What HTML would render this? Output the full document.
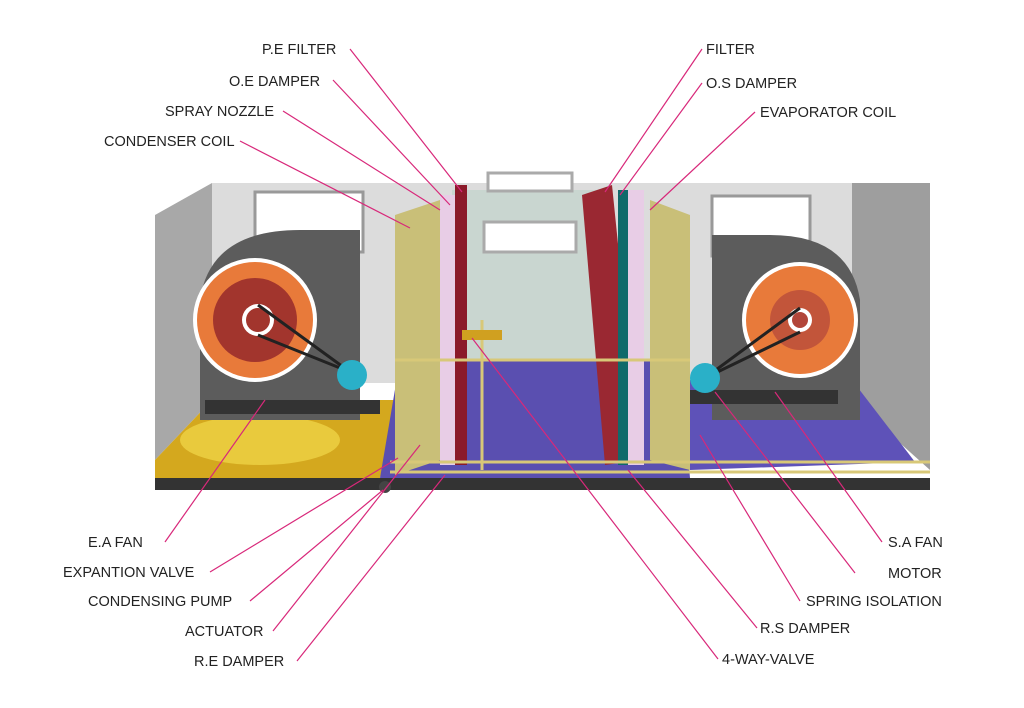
<!DOCTYPE html>
<html><head><meta charset="utf-8"><style>
body{margin:0;background:#fff}
svg text{font-family:"Liberation Sans",sans-serif;font-size:14.5px;fill:#222}
</style></head><body>
<svg width="1024" height="703" viewBox="0 0 1024 703" xmlns="http://www.w3.org/2000/svg">
<!-- back wall -->
<rect x="212" y="183" width="640" height="200" fill="#dcdcdc"/>
<polygon points="452,190 600,190 600,390 452,390" fill="#c9d6d0"/>
<!-- left wall -->
<polygon points="155,215 212,183 212,400 155,460" fill="#a8a8a8"/>
<!-- right wall -->
<polygon points="852,183 930,183 930,470 852,400" fill="#9e9e9e"/>
<!-- floors -->
<polygon points="155,460 212,400 400,400 380,478 155,478" fill="#d4a81e"/>
<ellipse cx="260" cy="440" rx="80" ry="25" fill="#f2d84a" opacity="0.7"/>
<polygon points="400,360 680,360 690,478 380,478" fill="#5a4fb0"/>
<polygon points="680,380 852,380 915,462 690,470" fill="#5e52b8"/>
<rect x="155" y="478" width="775" height="12" fill="#333"/>
<circle cx="385" cy="487" r="6" fill="#444"/>
<!-- ducts -->
<rect x="255" y="192" width="108" height="60" fill="#fff" stroke="#999" stroke-width="3"/>
<rect x="712" y="196" width="98" height="60" fill="#fff" stroke="#999" stroke-width="3"/>
<rect x="488" y="173" width="84" height="18" fill="#fff" stroke="#aaa" stroke-width="3"/>
<rect x="484" y="222" width="92" height="30" fill="#fff" stroke="#aaa" stroke-width="3"/>
<!-- left fan -->
<path d="M200,420 L200,300 Q210,230 300,230 L360,230 L360,420 Z" fill="#5c5c5c"/>
<circle cx="255" cy="320" r="62" fill="#fff"/>
<circle cx="255" cy="320" r="58" fill="#e87a3a"/>
<circle cx="255" cy="320" r="42" fill="#a2352d"/>
<circle cx="258" cy="320" r="16" fill="#fff"/><circle cx="258" cy="320" r="12" fill="#a2352d"/>
<polyline points="258,305 350,372 258,335" fill="none" stroke="#222" stroke-width="3"/>
<rect x="205" y="400" width="175" height="14" fill="#333"/>
<circle cx="352" cy="375" r="15" fill="#2ab0c8"/>
<!-- right fan -->
<path d="M860,420 L860,300 Q850,235 770,235 L712,235 L712,420 Z" fill="#5c5c5c"/>
<circle cx="800" cy="320" r="58" fill="#fff"/>
<circle cx="800" cy="320" r="54" fill="#e87a3a"/>
<circle cx="800" cy="320" r="30" fill="#b2463a" opacity="0.7"/>
<circle cx="800" cy="320" r="12" fill="#fff"/><circle cx="800" cy="320" r="8" fill="#b2463a"/>
<polyline points="800,308 705,378 800,332" fill="none" stroke="#222" stroke-width="3"/>
<rect x="688" y="390" width="150" height="14" fill="#333"/>
<circle cx="705" cy="378" r="15" fill="#2ab0c8"/>
<!-- left coil/filters -->
<polygon points="395,215 440,200 440,460 395,475" fill="#c9bf78"/>
<rect x="440" y="195" width="18" height="270" fill="#e8cde6"/>
<rect x="455" y="185" width="12" height="280" fill="#8b1a2a"/>
<rect x="415" y="210" width="8" height="120" fill="#c9bf78"/>
<!-- right filters/coil -->
<polygon points="582,195 612,185 640,460 605,465" fill="#9a2832"/>
<rect x="618" y="190" width="12" height="275" fill="#0f6a6a"/>
<rect x="628" y="190" width="16" height="275" fill="#e8cde6"/>
<polygon points="650,200 690,215 690,470 650,460" fill="#c9bf78"/>
<!-- pipes -->
<g stroke="#d8c878" stroke-width="3" fill="none">
<line x1="390" y1="462" x2="930" y2="462"/><line x1="390" y1="472" x2="930" y2="472"/>
<line x1="395" y1="360" x2="690" y2="360"/><line x1="482" y1="320" x2="482" y2="470"/>
</g>
<rect x="462" y="330" width="40" height="10" fill="#d0a020"/>
<!-- leader lines -->
<g stroke="#d8287a" stroke-width="1.2">
<line x1="350" y1="49" x2="462" y2="192"/>
<line x1="333" y1="80" x2="450" y2="205"/>
<line x1="283" y1="111" x2="440" y2="210"/>
<line x1="240" y1="141" x2="410" y2="228"/>
<line x1="702" y1="49" x2="605" y2="192"/>
<line x1="702" y1="83" x2="620" y2="195"/>
<line x1="755" y1="112" x2="650" y2="210"/>
<line x1="165" y1="542" x2="265" y2="400"/>
<line x1="210" y1="572" x2="398" y2="458"/>
<line x1="250" y1="601" x2="383" y2="490"/>
<line x1="273" y1="631" x2="420" y2="445"/>
<line x1="297" y1="661" x2="445" y2="475"/>
<line x1="882" y1="542" x2="775" y2="392"/>
<line x1="855" y1="573" x2="715" y2="392"/>
<line x1="800" y1="601" x2="700" y2="435"/>
<line x1="757" y1="628" x2="628" y2="470"/>
<line x1="718" y1="659" x2="472" y2="338"/>
</g>
<text x="262" y="54">P.E FILTER</text>
<text x="229" y="86">O.E DAMPER</text>
<text x="165" y="116">SPRAY NOZZLE</text>
<text x="104" y="146">CONDENSER COIL</text>
<text x="706" y="54">FILTER</text>
<text x="706" y="88">O.S DAMPER</text>
<text x="760" y="117">EVAPORATOR COIL</text>
<text x="88" y="547">E.A FAN</text>
<text x="63" y="577">EXPANTION VALVE</text>
<text x="88" y="606">CONDENSING PUMP</text>
<text x="185" y="636">ACTUATOR</text>
<text x="194" y="666">R.E DAMPER</text>
<text x="888" y="547">S.A FAN</text>
<text x="888" y="578">MOTOR</text>
<text x="806" y="606">SPRING ISOLATION</text>
<text x="760" y="633">R.S DAMPER</text>
<text x="722" y="664">4-WAY-VALVE</text>
</svg>
</body></html>
